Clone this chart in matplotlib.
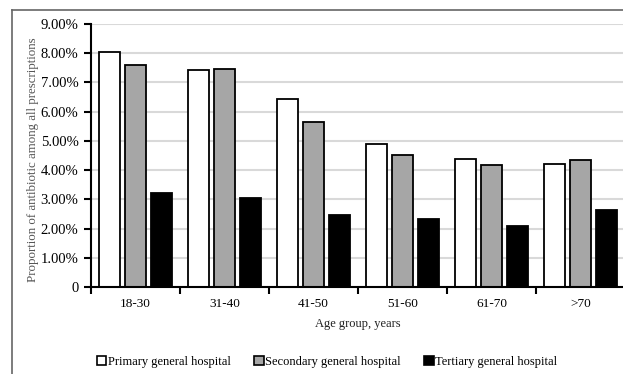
import matplotlib
matplotlib.use("Agg")
import matplotlib.pyplot as plt
from matplotlib.patches import Patch
from matplotlib.lines import Line2D
import numpy as np

plt.rcParams['font.family'] = ['Liberation Serif', 'DejaVu Serif']

age_groups = ["18-30", "31-40", "41-50", "51-60", "61-70", ">70"]
primary = [8.04, 7.42, 6.44, 4.89, 4.38, 4.21]
secondary = [7.58, 7.47, 5.66, 4.52, 4.18, 4.36]
tertiary = [3.23, 3.04, 2.47, 2.32, 2.10, 2.64]

series = [
    ("Primary general hospital", primary, "white"),
    ("Secondary general hospital", secondary, "#a6a6a6"),
    ("Tertiary general hospital", tertiary, "black"),
]

W, H = 623, 374
fig = plt.figure(figsize=(W / 100, H / 100), dpi=100)
ax = fig.add_axes([91 / W, 1 - 287 / H, 534 / W, 263 / H])

x = np.arange(len(age_groups))
step = 0.287
width = 0.235
for i, (name, vals, col) in enumerate(series):
    ax.bar(x + (i - 1) * step, vals, width, color=col, edgecolor="black",
           linewidth=1.3, zorder=3, label=name)

ax.set_xlim(-0.5, len(age_groups) - 0.5)
ax.set_ylim(0, 9)
ax.set_yticks(range(0, 10))
ax.set_yticklabels(["0"] + ["%.2f%%" % v for v in range(1, 10)])
ax.set_xticks(x)
ax.set_xticklabels(age_groups)
ax.set_xticks(np.arange(len(age_groups) + 1) - 0.5, minor=True)
ax.tick_params(axis="x", which="major", length=0, pad=8, labelsize=9.5)
ax.tick_params(axis="x", which="minor", length=5, width=1.5, direction="out")
ax.tick_params(axis="y", length=5, width=1.5, direction="out", labelsize=10.5, pad=4)

ax.grid(axis="y", color="#d9d9d9", linewidth=1.5, zorder=0)
for s in ["top", "right"]:
    ax.spines[s].set_visible(False)
for s in ["left", "bottom"]:
    ax.spines[s].set_linewidth(1.5)
ax.spines["bottom"].set_zorder(4)

ax.set_xlabel("Age group, years", fontsize=9, labelpad=6, color="#222222")
ax.set_ylabel("Proportion of antibiotic among all prescriptions", fontsize=9.3,
              color="#555555")
ax.yaxis.set_label_coords(-0.097, 0.483)

handles = [Patch(facecolor=c, edgecolor="black", linewidth=1.2) for _, _, c in series]
fig.legend(handles, [n for n, _, _ in series], loc="center", ncol=3,
           bbox_to_anchor=(327 / W, 1 - 362 / H), frameon=False, fontsize=9,
           handlelength=0.75, handleheight=0.75, handletextpad=0.1, columnspacing=1.9)

# outer frame
fig.add_artist(Line2D([12 / W, 1], [1 - 10 / H] * 2, color="#666666", linewidth=1.2))
fig.add_artist(Line2D([12 / W] * 2, [0, 1 - 10 / H], color="#666666", linewidth=1.2))

fig.savefig("out.png", dpi=100)
